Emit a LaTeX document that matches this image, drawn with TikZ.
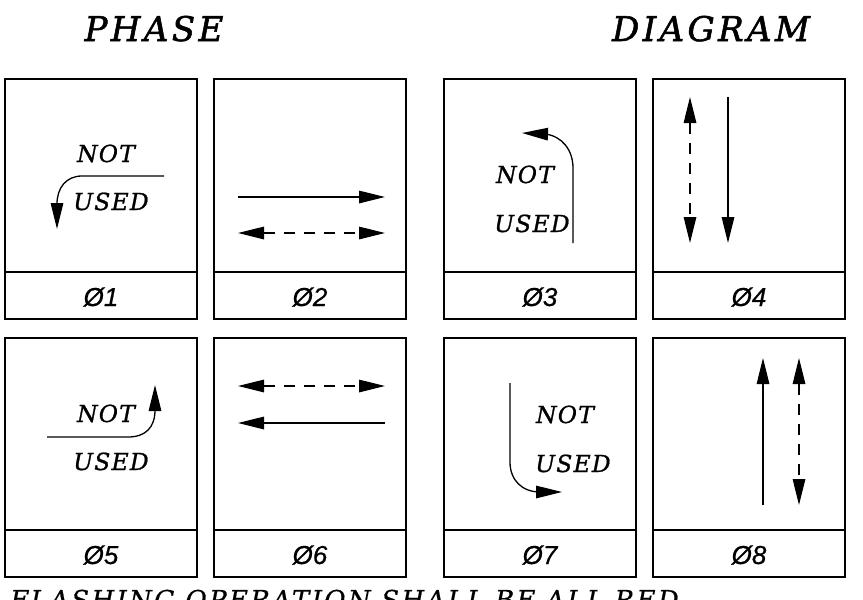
\documentclass[tikz,border=0pt]{standalone}
\usepackage{fontspec}
\usetikzlibrary{arrows.meta}
\newfontfamily\titlefont[LetterSpace=10,FakeBold=1.6]{DejaVu Serif}
\newfontfamily\nufont[LetterSpace=5,FakeBold=1.0]{DejaVu Serif}
\newfontfamily\footfont[LetterSpace=9,FakeBold=0.5]{DejaVu Serif}
\newfontfamily\labfont[FakeBold=0.6]{Liberation Sans}
\begin{document}
\begin{tikzpicture}[x=1pt,y=-1pt,
  panelbox/.style={line width=1.6pt},
  tip/.tip={Triangle[length=26pt,width=12.5pt]},
  arr/.style={line width=1.3pt,-tip},
  dbl/.style={line width=1.3pt,dash pattern=on 11pt off 9pt,tip-tip},
  title/.style={font=\titlefont\itshape\fontsize{34}{38}\selectfont,anchor=base,inner sep=0pt},
  nu/.style={font=\nufont\itshape\fontsize{23.5}{27}\selectfont,anchor=base,inner sep=0pt},
  phlab/.style={font=\labfont\itshape\fontsize{26}{30}\selectfont,anchor=base,inner sep=0pt},
  foot/.style={font=\footfont\itshape\fontsize{26}{30}\selectfont,anchor=base west,inner sep=0pt}]
\clip (0,0) rectangle (863,600);
\fill[white] (0,0) rectangle (863,600);

% titles
\node[title] (tphase) at (154,41) {PHASE};
\node[title] (tdiag) at (711,41) {DIAGRAM};

% boxes
\foreach \xa/\xb in {5/197,214/406,444/636,653/845}{
  \draw[panelbox] (\xa,79) rectangle (\xb,319);
  \draw[panelbox] (\xa,272) -- (\xb,272);
  \draw[panelbox] (\xa,338) rectangle (\xb,577);
  \draw[panelbox] (\xa,530) -- (\xb,530);
}

% phase labels
\node[phlab] (L1) at (101,306) {Ø1};
\node[phlab] (L2) at (310,306) {Ø2};
\node[phlab] (L3) at (540,306) {Ø3};
\node[phlab] (L4) at (749,306) {Ø4};
\node[phlab] (L5) at (101,564) {Ø5};
\node[phlab] (L6) at (310,564) {Ø6};
\node[phlab] (L7) at (540,564) {Ø7};
\node[phlab] (L8) at (749,564) {Ø8};

% panel 1
\node[nu] (n1) at (106,162) {NOT};
\node[nu] (u1) at (111,210) {USED};
\draw[arr] (164,176) -- (82,176) .. controls (66,176) and (57,188) .. (57,204) -- (57,229);

% panel 2
\coordinate (p2a) at (238,197); \coordinate (p2b) at (385,197);
\coordinate (p2c) at (238,233); \coordinate (p2d) at (385,233);
\draw[arr] (p2a) -- (p2b);
\draw[dbl] (p2c) -- (p2d);

% panel 3
\node[nu] (n3) at (525,183) {NOT};
\node[nu] (u3) at (532,232) {USED};
\draw[arr] (573,243) -- (573,168) .. controls (573,150) and (562,136) .. (545,134) -- (522,133);

% panel 4
\coordinate (p4a) at (690,97); \coordinate (p4b) at (690,243);
\coordinate (p4c) at (728,97); \coordinate (p4d) at (728,243);
\draw[dbl] (p4a) -- (p4b);
\draw[arr] (p4c) -- (p4d);

% panel 5
\node[nu] (n5) at (106,422) {NOT};
\node[nu] (u5) at (111,470) {USED};
\draw[arr] (47,437) -- (128,437) .. controls (145,437) and (155,428) .. (155,410) -- (155,385);

% panel 6
\coordinate (p6a) at (238,386); \coordinate (p6b) at (385,386);
\coordinate (p6c) at (385,423); \coordinate (p6d) at (238,423);
\draw[dbl] (p6a) -- (p6b);
\draw[arr] (p6c) -- (p6d);

% panel 7
\node[nu] (n7) at (565,423) {NOT};
\node[nu] (u7) at (573,472) {USED};
\draw[arr] (510,383) -- (510,462) .. controls (510,480) and (522,492) .. (540,492) -- (562,492);

% panel 8
\coordinate (p8a) at (763,505); \coordinate (p8b) at (763,358);
\coordinate (p8c) at (799,358); \coordinate (p8d) at (799,505);
\draw[arr] (p8a) -- (p8b);
\draw[dbl] (p8c) -- (p8d);

% footer (cut off at the bottom edge, as in the reference)
\node[foot] (ftext) at (10,609) {FLASHING OPERATION SHALL BE ALL RED};
\end{tikzpicture}
\end{document}
